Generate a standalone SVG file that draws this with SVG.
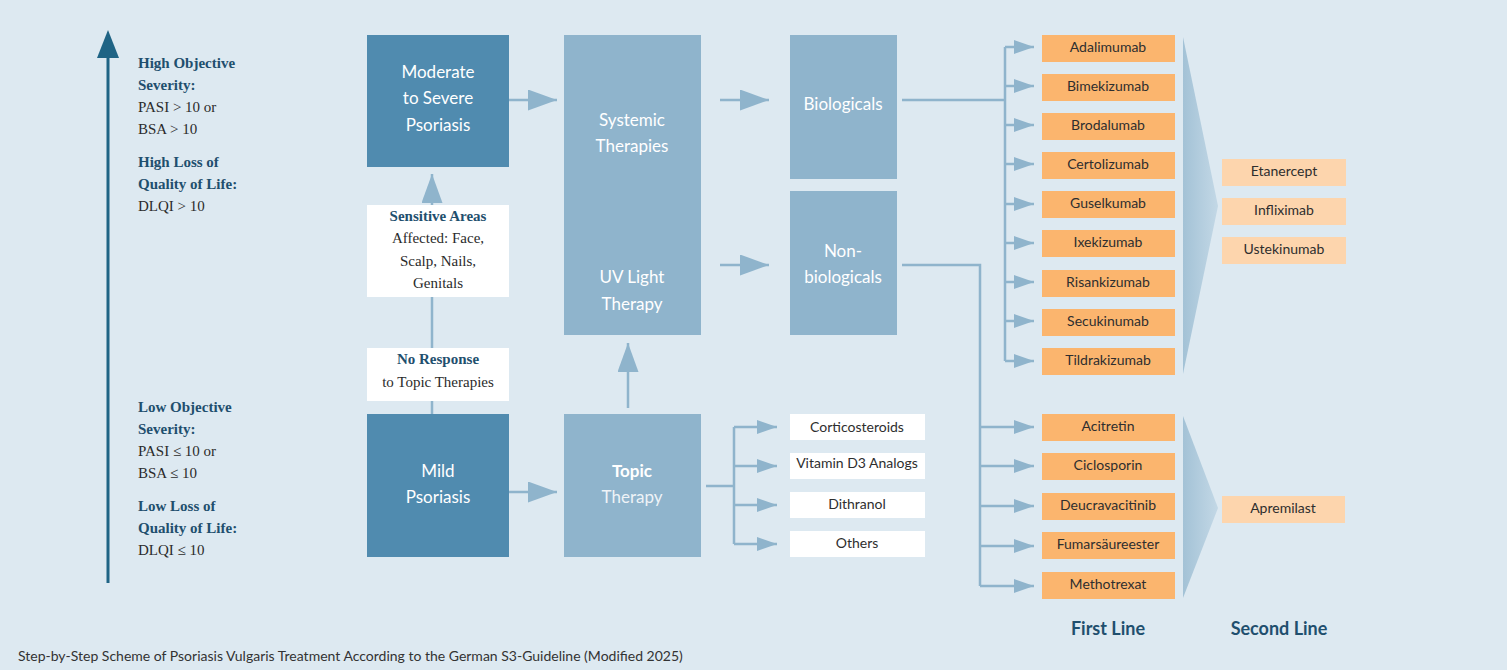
<svg xmlns="http://www.w3.org/2000/svg" width="1507" height="670" viewBox="0 0 1507 670">
<defs>
<style>
.bg{fill:#dde9f1}
.dark{fill:#508baf}
.light{fill:#8fb4cc}
.white{fill:#ffffff}
.or1{fill:#fbb56e}
.or2{fill:#fdd5ad}
.con{stroke:#8fb4cc;stroke-width:2.5;fill:none}
.serif{font-family:"Liberation Serif","DejaVu Serif",serif;font-size:15px;fill:#2b2b2b}
.sb{font-weight:bold;fill:#1f4f6e}
.box{font-family:Lato,"Open Sans","Liberation Sans",sans-serif;font-size:17px;fill:#ffffff;text-anchor:middle}
.item{font-family:Lato,"Open Sans","Liberation Sans",sans-serif;font-size:14px;fill:#2e2e2e;text-anchor:middle}
.line{font-family:Lato,"Open Sans","Liberation Sans",sans-serif;font-size:18px;font-weight:bold;fill:#1f4f6e;text-anchor:middle}
.cap{font-family:Lato,"Liberation Sans",sans-serif;font-size:14px;fill:#333333}
</style>
<marker id="big" markerUnits="userSpaceOnUse" markerWidth="29" markerHeight="21" refX="29" refY="10.5" orient="auto">
<path d="M0,0 L29,10.5 L0,21 z" fill="#8fb4cc"/>
</marker>
<marker id="small" markerUnits="userSpaceOnUse" markerWidth="20" markerHeight="14" refX="20" refY="7" orient="auto">
<path d="M0,0 L20,7 L0,14 z" fill="#8fb4cc"/>
</marker>
<linearGradient id="chev" x1="0" y1="0" x2="1" y2="0">
<stop offset="0" stop-color="#a3c2d6"/>
<stop offset="1" stop-color="#c3d8e6"/>
</linearGradient>
</defs>
<rect class="bg" x="0" y="0" width="1507" height="670"/>

<g id="axis">
<line x1="108" y1="583" x2="108" y2="52" stroke="#1f6485" stroke-width="3"/>
<path d="M108,30 L119,58 L97,58 z" fill="#1f6485"/>
</g>

<g id="high-criteria" class="serif">
<text x="138" y="68" class="serif sb">High Objective</text>
<text x="138" y="90" class="serif sb">Severity:</text>
<text x="138" y="112" class="serif">PASI &gt; 10 or</text>
<text x="138" y="134" class="serif">BSA &gt; 10</text>
<text x="138" y="167" class="serif sb">High Loss of</text>
<text x="138" y="189" class="serif sb">Quality of Life:</text>
<text x="138" y="211" class="serif">DLQI &gt; 10</text>
</g>

<g id="low-criteria">
<text x="138" y="412" class="serif sb">Low Objective</text>
<text x="138" y="434" class="serif sb">Severity:</text>
<text x="138" y="456" class="serif">PASI ≤ 10 or</text>
<text x="138" y="478" class="serif">BSA ≤ 10</text>
<text x="138" y="511" class="serif sb">Low Loss of</text>
<text x="138" y="533" class="serif sb">Quality of Life:</text>
<text x="138" y="555" class="serif">DLQI ≤ 10</text>
</g>

<g id="connectors">
<line class="con" x1="432" y1="414" x2="432" y2="401"/>
<line class="con" x1="432" y1="348" x2="432" y2="297"/>
<line class="con" x1="432" y1="205" x2="432" y2="174" marker-end="url(#big)"/>
<line class="con" x1="509" y1="100" x2="557" y2="100" marker-end="url(#big)"/>
<line class="con" x1="509" y1="492" x2="557" y2="492" marker-end="url(#big)"/>
<line class="con" x1="628" y1="408" x2="628" y2="343" marker-end="url(#big)"/>
<line class="con" x1="720" y1="100" x2="769" y2="100" marker-end="url(#big)"/>
<line class="con" x1="720" y1="265" x2="769" y2="265" marker-end="url(#big)"/>
<path class="con" d="M706,486 H734 M734,427 V544"/>
<line class="con" x1="734" y1="427" x2="777" y2="427" marker-end="url(#small)"/>
<line class="con" x1="734" y1="466" x2="777" y2="466" marker-end="url(#small)"/>
<line class="con" x1="734" y1="505" x2="777" y2="505" marker-end="url(#small)"/>
<line class="con" x1="734" y1="544" x2="777" y2="544" marker-end="url(#small)"/>
<path class="con" d="M902,100 H1005 M1005,47 V361"/>
<line class="con" x1="1005" y1="47" x2="1034" y2="47" marker-end="url(#small)"/>
<line class="con" x1="1005" y1="86" x2="1034" y2="86" marker-end="url(#small)"/>
<line class="con" x1="1005" y1="125" x2="1034" y2="125" marker-end="url(#small)"/>
<line class="con" x1="1005" y1="164" x2="1034" y2="164" marker-end="url(#small)"/>
<line class="con" x1="1005" y1="204" x2="1034" y2="204" marker-end="url(#small)"/>
<line class="con" x1="1005" y1="243" x2="1034" y2="243" marker-end="url(#small)"/>
<line class="con" x1="1005" y1="282" x2="1034" y2="282" marker-end="url(#small)"/>
<line class="con" x1="1005" y1="321" x2="1034" y2="321" marker-end="url(#small)"/>
<line class="con" x1="1005" y1="361" x2="1034" y2="361" marker-end="url(#small)"/>
<path class="con" d="M902,265 H980 V586"/>
<line class="con" x1="980" y1="427" x2="1034" y2="427" marker-end="url(#small)"/>
<line class="con" x1="980" y1="466" x2="1034" y2="466" marker-end="url(#small)"/>
<line class="con" x1="980" y1="506" x2="1034" y2="506" marker-end="url(#small)"/>
<line class="con" x1="980" y1="546" x2="1034" y2="546" marker-end="url(#small)"/>
<line class="con" x1="980" y1="586" x2="1034" y2="586" marker-end="url(#small)"/>
</g>

<g id="moderate">
<rect class="dark" x="367" y="35" width="142" height="132"/>
<text class="box" x="438" y="78">Moderate</text>
<text class="box" x="438" y="104">to Severe</text>
<text class="box" x="438" y="131">Psoriasis</text>
</g>

<g id="sensitive">
<rect class="white" x="367" y="205" width="142" height="92"/>
<text class="serif sb" x="438" y="221" text-anchor="middle">Sensitive Areas</text>
<text class="serif" x="438" y="243" text-anchor="middle">Affected: Face,</text>
<text class="serif" x="438" y="266" text-anchor="middle">Scalp, Nails,</text>
<text class="serif" x="438" y="288" text-anchor="middle">Genitals</text>
</g>

<g id="noresponse">
<rect class="white" x="367" y="348" width="142" height="53"/>
<text class="serif sb" x="438" y="364" text-anchor="middle">No Response</text>
<text class="serif" x="438" y="387" text-anchor="middle">to Topic Therapies</text>
</g>

<g id="mild">
<rect class="dark" x="367" y="414" width="142" height="143"/>
<text class="box" x="438" y="477">Mild</text>
<text class="box" x="438" y="503">Psoriasis</text>
</g>

<g id="systemic">
<rect class="light" x="564" y="35" width="137" height="300"/>
<text class="box" x="632" y="126">Systemic</text>
<text class="box" x="632" y="152">Therapies</text>
<text class="box" x="632" y="283">UV Light</text>
<text class="box" x="632" y="310">Therapy</text>
</g>

<g id="topic">
<rect class="light" x="564" y="414" width="137" height="143"/>
<text class="box" x="632" y="477" font-weight="bold">Topic</text>
<text class="box" x="632" y="503" style="fill:#eef3f7">Therapy</text>
</g>

<g id="biologicals">
<rect class="light" x="790" y="35" width="107" height="144"/>
<text class="box" x="843" y="110">Biologicals</text>
</g>

<g id="nonbiologicals">
<rect class="light" x="790" y="191" width="107" height="144"/>
<text class="box" x="843" y="257">Non-</text>
<text class="box" x="843" y="283">biologicals</text>
</g>

<g id="topic-items">
<rect class="white" x="790" y="414" width="135" height="26"/>
<text class="item" x="857" y="432">Corticosteroids</text>
<rect class="white" x="790" y="453" width="135" height="26"/>
<text class="item" x="857" y="468">Vitamin D3 Analogs</text>
<rect class="white" x="790" y="492" width="135" height="26"/>
<text class="item" x="857" y="509">Dithranol</text>
<rect class="white" x="790" y="531" width="135" height="26"/>
<text class="item" x="857" y="548">Others</text>
</g>

<g id="chevrons">
<path d="M1183,37 L1218,206 L1183,374 z" fill="url(#chev)"/>
<path d="M1183,416 L1218,508 L1183,598 z" fill="url(#chev)"/>
</g>

<g id="bio-first-line">
<rect class="or1" x="1042" y="35" width="133" height="27"/>
<text class="item" x="1108" y="52">Adalimumab</text>
<rect class="or1" x="1042" y="74" width="133" height="27"/>
<text class="item" x="1108" y="91">Bimekizumab</text>
<rect class="or1" x="1042" y="113" width="133" height="27"/>
<text class="item" x="1108" y="130">Brodalumab</text>
<rect class="or1" x="1042" y="152" width="133" height="27"/>
<text class="item" x="1108" y="169">Certolizumab</text>
<rect class="or1" x="1042" y="191" width="133" height="27"/>
<text class="item" x="1108" y="208">Guselkumab</text>
<rect class="or1" x="1042" y="230" width="133" height="27"/>
<text class="item" x="1108" y="247">Ixekizumab</text>
<rect class="or1" x="1042" y="270" width="133" height="27"/>
<text class="item" x="1108" y="287">Risankizumab</text>
<rect class="or1" x="1042" y="309" width="133" height="27"/>
<text class="item" x="1108" y="326">Secukinumab</text>
<rect class="or1" x="1042" y="348" width="133" height="27"/>
<text class="item" x="1108" y="365">Tildrakizumab</text>
</g>

<g id="nonbio-first-line">
<rect class="or1" x="1042" y="414" width="133" height="27"/>
<text class="item" x="1108" y="431">Acitretin</text>
<rect class="or1" x="1042" y="453" width="133" height="27"/>
<text class="item" x="1108" y="470">Ciclosporin</text>
<rect class="or1" x="1042" y="493" width="133" height="27"/>
<text class="item" x="1108" y="510">Deucravacitinib</text>
<rect class="or1" x="1042" y="532" width="133" height="27"/>
<text class="item" x="1108" y="549">Fumarsäureester</text>
<rect class="or1" x="1042" y="572" width="133" height="27"/>
<text class="item" x="1108" y="589">Methotrexat</text>
</g>

<g id="bio-second-line">
<rect class="or2" x="1222" y="159" width="124" height="27"/>
<text class="item" x="1284" y="176">Etanercept</text>
<rect class="or2" x="1222" y="198" width="124" height="27"/>
<text class="item" x="1284" y="215">Infliximab</text>
<rect class="or2" x="1222" y="237" width="124" height="27"/>
<text class="item" x="1284" y="254">Ustekinumab</text>
</g>

<g id="nonbio-second-line">
<rect class="or2" x="1222" y="496" width="123" height="27"/>
<text class="item" x="1283" y="513">Apremilast</text>
</g>

<g id="column-labels">
<text class="line" x="1108" y="635">First Line</text>
<text class="line" x="1279" y="635">Second Line</text>
</g>

<text class="cap" x="18" y="661">Step-by-Step Scheme of Psoriasis Vulgaris Treatment According to the German S3-Guideline (Modified 2025)</text>
</svg>
